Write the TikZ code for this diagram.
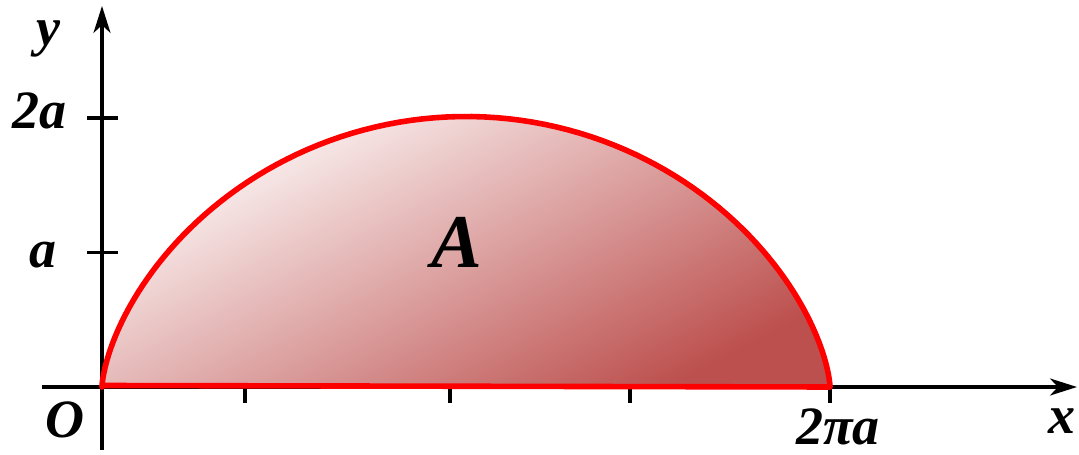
\documentclass[tikz,border=0pt]{standalone}
\usepackage{fontspec}
\setmainfont{Liberation Serif}
\usepackage{xcolor}
\usepackage{tikz}
\usetikzlibrary{arrows.meta}

\definecolor{arealight}{RGB}{254,250,250}
\definecolor{areamid}{RGB}{237,204,204}
\definecolor{areadark}{RGB}{188,80,78}

\begin{document}
\begin{tikzpicture}[
  x=1pt, y=1pt,
  >={Stealth[length=27pt, width=17pt, inset=8pt]},
  axis/.style={->, line width=3.2pt, draw=black},
  tick/.style={line width=3.2pt, draw=black},
  curve/.style={line width=5.6pt, draw=red, line join=round},
  lbl/.style={font=\fontsize{54}{60}\selectfont\bfseries\itshape, inner sep=0pt},
  biglbl/.style={font=\fontsize{76}{84}\selectfont\bfseries\itshape, inner sep=0pt},
]
\useasboundingbox (-102,-68) rectangle (977,387);

\def\ax{115.86}
\def\ay{135.25}

%% ── Surface sous l'arche ───────────────────────────────────────────────
\shade[top color=arealight, middle color=areamid, bottom color=areadark,
       shading angle=28]
  plot[domain=0:2*pi, samples=120]
    ({\ax*(\x - sin(\x r))}, {\ay*(1 - cos(\x r))}) -- cycle;

%% ── Axes ───────────────────────────────────────────────────────────────
\coordinate (xstart) at (-60,0);
\coordinate (xend)   at (975,0);
\coordinate (ystart) at (0,-63);
\coordinate (yend)   at (0,381);
\draw[axis] (xstart) -- (xend);
\draw[axis] (ystart) -- (yend);

%% ── Graduations ────────────────────────────────────────────────────────
\foreach \t in {143,348,528,728}
  \draw[tick] (\t,0) -- (\t,-16);
\foreach \t in {134.5,269}
  \draw[tick] (-15,\t) -- (16,\t);

%% ── Arche de cycloïde ──────────────────────────────────────────────────
\draw[curve]
  plot[domain=0:2*pi, samples=120]
    ({\ax*(\x - sin(\x r))}, {\ay*(1 - cos(\x r))}) -- (0,1.5) -- cycle;

%% ── Étiquettes ─────────────────────────────────────────────────────────
\node[lbl] (ylab)   at (-54,348)  {y};
\node[lbl] (twoa)   at (-62,276)  {2a};
\node[lbl] (onea)   at (-59,132)  {a};
\node[lbl] (orig)   at (-37,-33)  {O};
\node[lbl] (twopia) at (736,-40)  {2πa};
\node[lbl] (xlab)   at (960,-34)  {x};
\node[biglbl] (area) at (355,145) {A};

\end{tikzpicture}
\end{document}
